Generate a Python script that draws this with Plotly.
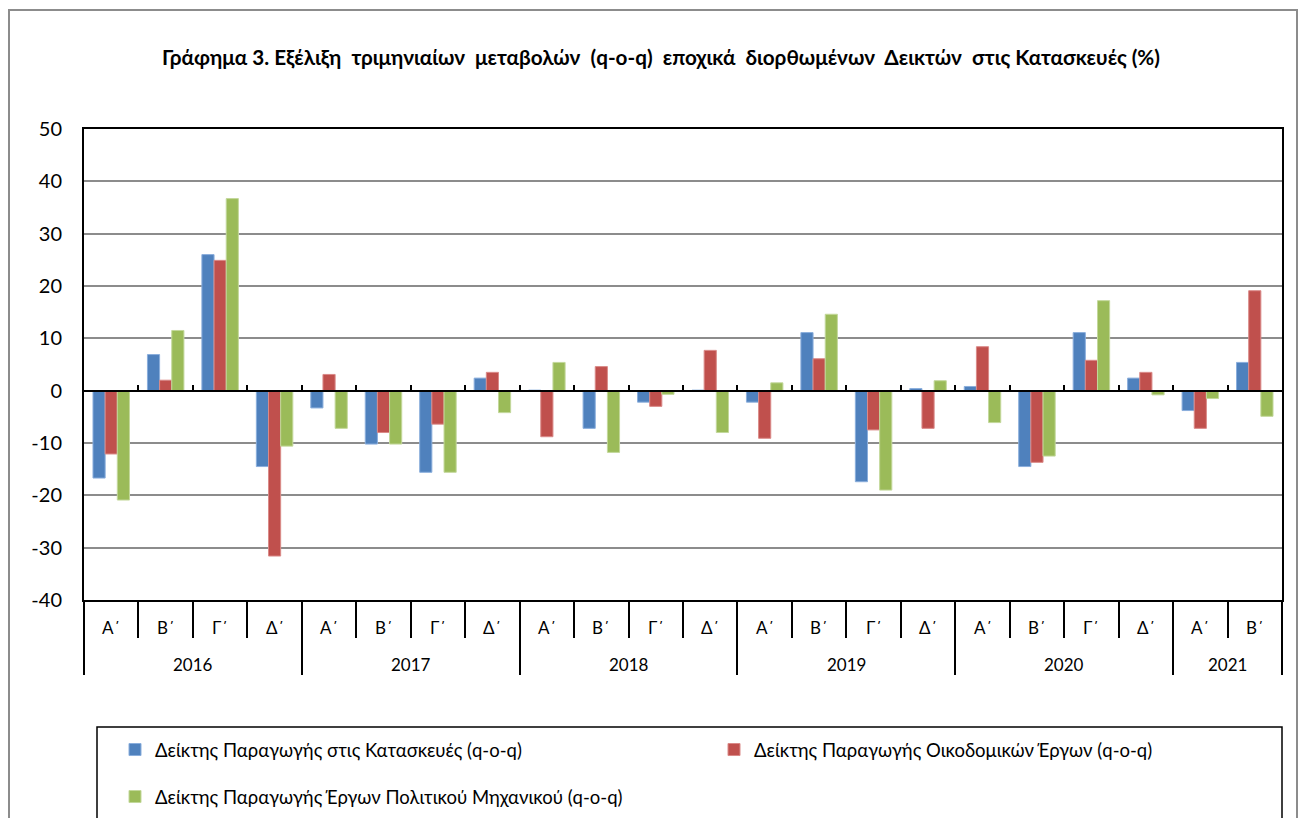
import plotly.graph_objects as go

years = ["2016", "2017", "2018", "2019", "2020", "2021"]
quarters_per_year = [4, 4, 4, 4, 4, 2]
quarter_names = ["Α΄", "Β΄", "Γ΄", "Δ΄"]

construction = [-16.7, 6.9, 26.0, -14.5, -3.3, -10.2, -15.6, 2.4,
                0.1, -7.2, -2.2, 0.1, -2.2, 11.1, -17.4, 0.4,
                0.8, -14.5, 11.1, 2.4, -3.8, 5.4]
building = [-12.1, 2.0, 24.9, -31.6, 3.1, -8.0, -6.4, 3.5,
            -8.8, 4.6, -3.0, 7.7, -9.1, 6.1, -7.5, -7.2,
            8.4, -13.7, 5.8, 3.5, -7.2, 19.1]
civil = [-20.9, 11.5, 36.7, -10.6, -7.2, -10.2, -15.6, -4.2,
         5.4, -11.8, -0.7, -8.0, 1.5, 14.6, -19.0, 1.9,
         -6.1, -12.5, 17.2, -0.8, -1.5, -4.9]

y_ticks = [-40, -30, -20, -10, 0, 10, 20, 30, 40, 50]

series_names = [
    "Δείκτης Παραγωγής στις Κατασκευές (q-o-q)",
    "Δείκτης Παραγωγής Οικοδομικών Έργων (q-o-q)",
    "Δείκτης Παραγωγής Έργων Πολιτικού Μηχανικού (q-o-q)",
]
colors = ["#4F81BD", "#C0504D", "#9BBB59"]
edge_colors = ["#8AAEDC", "#DA8A88", "#C3D89B"]
title_text = "Γράφημα 3. Εξέλιξη  τριμηνιαίων  μεταβολών  (q-o-q)  εποχικά  διορθωμένων  Δεικτών  στις Κατασκευές (%)"

# category structure
quarter_labels = []
for y, n in zip(years, quarters_per_year):
    for q in range(n):
        quarter_labels.append(quarter_names[q])
N = len(quarter_labels)
xs = list(range(N))

FONT = "Lato"
L, R, T, B = 84, 18, 129, 218
W, H = 1300, 818
PW, PH = W - L - R, H - T - B
YMIN, YMAX = y_ticks[0], y_ticks[-1]


def px_x(p):
    return (p - L) / PW


def px_y(p):
    return (H - B - p) / PH


fig = go.Figure()
legend_ids = ["legend", "legend2", "legend3"]
for vals, name, c, ec, lg in zip([construction, building, civil], series_names, colors, edge_colors, legend_ids):
    fig.add_trace(go.Bar(x=xs, y=vals, name=name, marker=dict(color=c, line=dict(color=ec, width=1)),
                         legend=lg))

# dummy trace to activate the zero-crossing axis
fig.add_trace(go.Scatter(x=[None], y=[None], xaxis="x2", yaxis="y", showlegend=False, hoverinfo="skip"))

# boundaries
quarter_bounds = [i - 0.5 for i in range(N + 1)]
year_bounds = [-0.5]
acc = -0.5
for n in quarters_per_year:
    acc += n
    year_bounds.append(acc)

annotations = []
for i, q in enumerate(quarter_labels):
    annotations.append(dict(x=i, y=0, xref="x", yref="paper", text=q, showarrow=False,
                            yanchor="middle", yshift=-27, font=dict(family=FONT, size=17, color="black")))
start = 0
for y, n in zip(years, quarters_per_year):
    annotations.append(dict(x=start + (n - 1) / 2, y=0, xref="x", yref="paper", text=y, showarrow=False,
                            yanchor="middle", yshift=-64, font=dict(family=FONT, size=17, color="black")))
    start += n

shapes = [
    # outer chart border
    dict(type="rect", xref="paper", yref="paper", x0=px_x(9), x1=px_x(1297), y0=px_y(10), y1=px_y(840),
         line=dict(color="#8C8C8C", width=2), layer="below"),
    # legend box
    dict(type="rect", xref="paper", yref="paper", x0=px_x(97), x1=px_x(1282), y0=px_y(727), y1=px_y(840),
         line=dict(color="black", width=1.5)),
]

legend_common = dict(orientation="h", xanchor="left", yanchor="middle", bgcolor="rgba(0,0,0,0)",
                     xref="container", yref="container",
                     font=dict(family=FONT, size=18.5, color="black"), itemwidth=30)

fig.update_layout(
    width=W, height=H,
    margin=dict(l=L, r=R, t=T, b=B, pad=0, autoexpand=False),
    paper_bgcolor="white", plot_bgcolor="white",
    barmode="group", bargap=0.33, bargroupgap=0,
    title=dict(text="<b>" + title_text.replace("  ", "\u00a0 ") + "</b>", x=661 / W, xref="container",
               xanchor="center", y=1 - 58 / H, yref="container", yanchor="middle",
               font=dict(family=FONT, size=20.7, color="black")),
    font=dict(family=FONT, color="black"),
    xaxis=dict(range=[-0.5, N - 0.5], showgrid=False, zeroline=False, automargin=False,
               showline=True, mirror=True, linecolor="black", linewidth=2,
               tickmode="array", tickvals=year_bounds, ticks="outside", ticklen=73,
               tickwidth=2, tickcolor="black", showticklabels=False,
               minor=dict(tickmode="array", tickvals=quarter_bounds, ticks="outside",
                          ticklen=36, tickwidth=2, tickcolor="black", showgrid=False)),
    xaxis2=dict(range=[-0.5, N - 0.5], overlaying="x", anchor="free", position=(0 - YMIN) / (YMAX - YMIN),
                showgrid=False, zeroline=False, showline=True, linecolor="black", linewidth=2, automargin=False,
                tickmode="array", tickvals=quarter_bounds, ticks="inside", ticklen=5, tickwidth=1.5,
                tickcolor="black", showticklabels=False),
    yaxis=dict(range=[YMIN, YMAX], tickmode="array", tickvals=y_ticks, ticktext=[str(v) for v in y_ticks],
               showgrid=True, gridcolor="#8C8C8C", gridwidth=1.5, automargin=False,
               zeroline=False, showline=True, mirror=True, linecolor="black", linewidth=2,
               ticks="", ticklabelstandoff=16, tickfont=dict(family=FONT, size=20, color="black")),
    legend=dict(x=115 / W, y=1 - 750 / H, **legend_common),
    legend2=dict(x=714 / W, y=1 - 750 / H, **legend_common),
    legend3=dict(x=115 / W, y=1 - 797 / H, **legend_common),
    annotations=annotations,
    shapes=shapes,
    showlegend=True,
)

post = (
    "document.documentElement.style.margin='0';"
    "document.documentElement.style.overflow='hidden';"
    "document.body.style.margin='0';"
    "document.body.style.overflow='hidden';"
    "var gd=document.getElementById('{plot_id}');"
    "if(gd&&gd.parentElement){gd.parentElement.style.height='818px';gd.parentElement.style.overflow='hidden';}"
)
fig.write_html("out.html", config={"displayModeBar": False}, post_script=post)
